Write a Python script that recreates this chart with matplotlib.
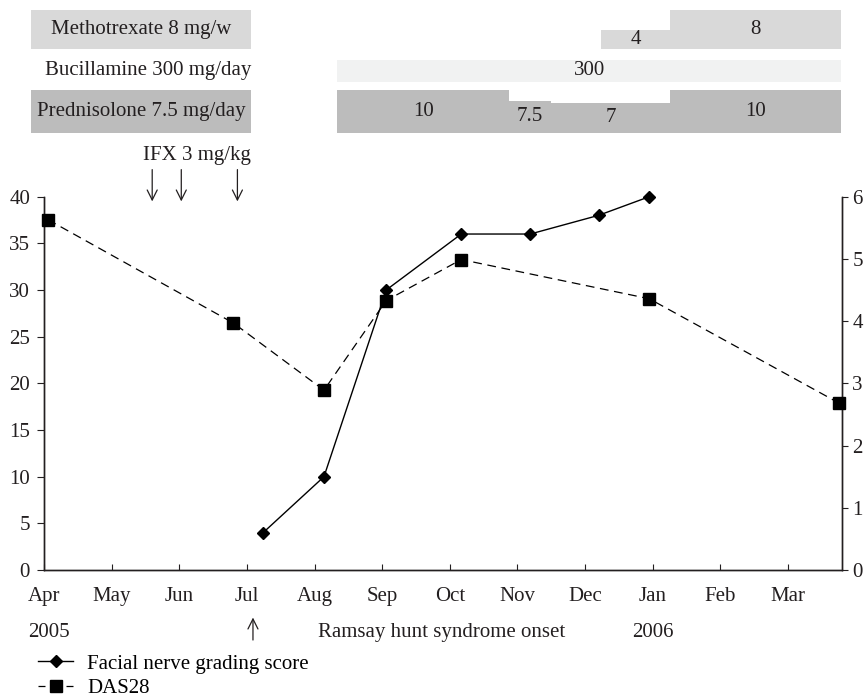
import numpy as np
import matplotlib.pyplot as plt
from matplotlib.lines import Line2D

plt.rcParams['font.family'] = ['Liberation Serif', 'DejaVu Serif']
plt.rcParams['font.size'] = 15

# x positions are months counted from April 2005
months = ['Apr', 'May', 'Jun', 'Jul', 'Aug', 'Sep', 'Oct', 'Nov', 'Dec', 'Jan', 'Feb', 'Mar']
years = ['2005', '2006']
year_pos = [0.07, 9.0]

fn_x = [3.24, 4.14, 5.06, 6.17, 7.19, 8.20, 8.95]
fn_y = [4, 10, 30, 36, 36, 38, 40]

das_x = [0.06, 2.80, 4.14, 5.06, 6.17, 8.95, 11.76]
das_y = [5.63, 3.97, 2.89, 4.33, 4.99, 4.36, 2.68]

ifx_x = [1.60, 2.03, 2.86]
onset_x = 3.09

# drug doses: start month, end month, dose
mtx_start = [8.24, 9.26]
mtx_end = [9.26, 11.79]
mtx_dose = [4, 8]

buc_start = [4.33]
buc_end = [11.79]
buc_dose = [300]

pred_start = [4.33, 6.88, 7.50, 9.25]
pred_end = [6.88, 7.50, 9.25, 11.79]
pred_dose = [10, 7.5, 7, 10]

W, H = 866, 700
fig = plt.figure(figsize=(W / 100, H / 100), dpi=100)


def px_axes(l, t, r, b):
    return fig.add_axes([l / W, 1 - b / H, (r - l) / W, (b - t) / H])


XMAX = 11.8
lab_x0, lab_x1 = -0.185, 3.06
ink = '#231f20'

# --- drug rows ---
rows = [
    (px_axes(44, 10, 842, 49), mtx_start, mtx_end, mtx_dose, 8, '#d9d9d9', 'Methotrexate 8 mg/w', True),
    (px_axes(44, 60, 842, 82), buc_start, buc_end, buc_dose, 300, '#f1f2f2', 'Bucillamine 300 mg/day', False),
    (px_axes(44, 90, 842, 133), pred_start, pred_end, pred_dose, 10, '#bcbcbc', 'Prednisolone 7.5 mg/day', True),
]
for rax, st, en, dose, top, col, label, box in rows:
    st = np.array(st)
    en = np.array(en)
    rax.bar(st, dose, width=en - st, align='edge', color=col, linewidth=0)
    for s, e, d in zip(st, en, dose):
        txt = str(d) if d != int(d) else str(int(d))
        rax.text((s + e) / 2, d / 2, txt, ha='center', va='center', color=ink)
    if box:
        rax.bar(lab_x0, top, width=lab_x1 - lab_x0, align='edge', color=col,
                linewidth=0, clip_on=False)
        rax.text((lab_x0 + lab_x1) / 2, top / 2, label, ha='center', va='center', color=ink)
    else:
        rax.text(lab_x1, top / 2, label, ha='right', va='center', color=ink)
    rax.set_xlim(0, XMAX)
    rax.set_ylim(0, top)
    rax.axis('off')

# --- main chart ---
ax = px_axes(44, 196.7, 842, 570)
ax2 = ax.twinx()

ax.plot(fn_x, fn_y, color='black', lw=1.0, marker='D', ms=6.5, zorder=3, clip_on=False)
das_line, = ax2.plot(das_x, das_y, color='black', lw=0.9, marker='s', ms=8, zorder=3,
                     clip_on=False)
das_line.set_dashes((7, 4.5))

ax.set_xlim(0, XMAX)
ax.set_ylim(0, 40)
ax2.set_ylim(0, 6)
ax.set_yticks(np.arange(0, 41, 5))
ax2.set_yticks(np.arange(0, 7, 1))
ax.set_xticks(np.arange(len(months)))
ax.set_xticklabels(months)

for a in (ax, ax2):
    a.spines['top'].set_visible(False)
    for s in a.spines.values():
        s.set_color(ink)
        s.set_linewidth(1.0)
ax.tick_params(axis='y', direction='out', length=5, pad=5, colors=ink)
ax.tick_params(axis='x', direction='in', length=4, pad=12, colors=ink)
ax2.tick_params(axis='y', direction='out', length=4.5, pad=3, colors=ink)

# IFX infusions
for x in ifx_x:
    ax.annotate('', xy=(x, 39.2), xytext=(x, 43.2), annotation_clip=False,
                arrowprops=dict(arrowstyle='->', lw=0.9, color=ink, mutation_scale=18))
ax.text(2.26, 44.4, 'IFX 3 mg/kg', ha='center', va='center', color=ink)

# onset marker and years
ax.annotate('', xy=(onset_x, -4.8), xytext=(onset_x, -7.8), annotation_clip=False,
            arrowprops=dict(arrowstyle='->', lw=0.9, color=ink, mutation_scale=18))
ax.text(4.05, -6.7, 'Ramsay hunt syndrome onset', ha='left', va='center', color=ink)
for yx, yl in zip(year_pos, years):
    ax.text(yx, -6.7, yl, ha='center', va='center', color=ink)

# DAS28 key: short dash, square, short dash
handles = [
    Line2D([], [], color='black', lw=1.0, marker='D', ms=6.5),
    Line2D([], [], color='black', lw=0.9, marker='s', ms=8,
           linestyle=(0, (5.6, 16.8, 5.6, 30))),
]
ax.legend(handles, ['Facial nerve grading score', 'DAS28'], loc='upper left',
          bbox_to_anchor=(38 / W, 1 - 654 / H), bbox_transform=fig.transFigure,
          frameon=False, handlelength=1.7, handletextpad=0.65, labelspacing=0.25,
          borderpad=0, borderaxespad=0)

fig.savefig('out.png', dpi=100)
